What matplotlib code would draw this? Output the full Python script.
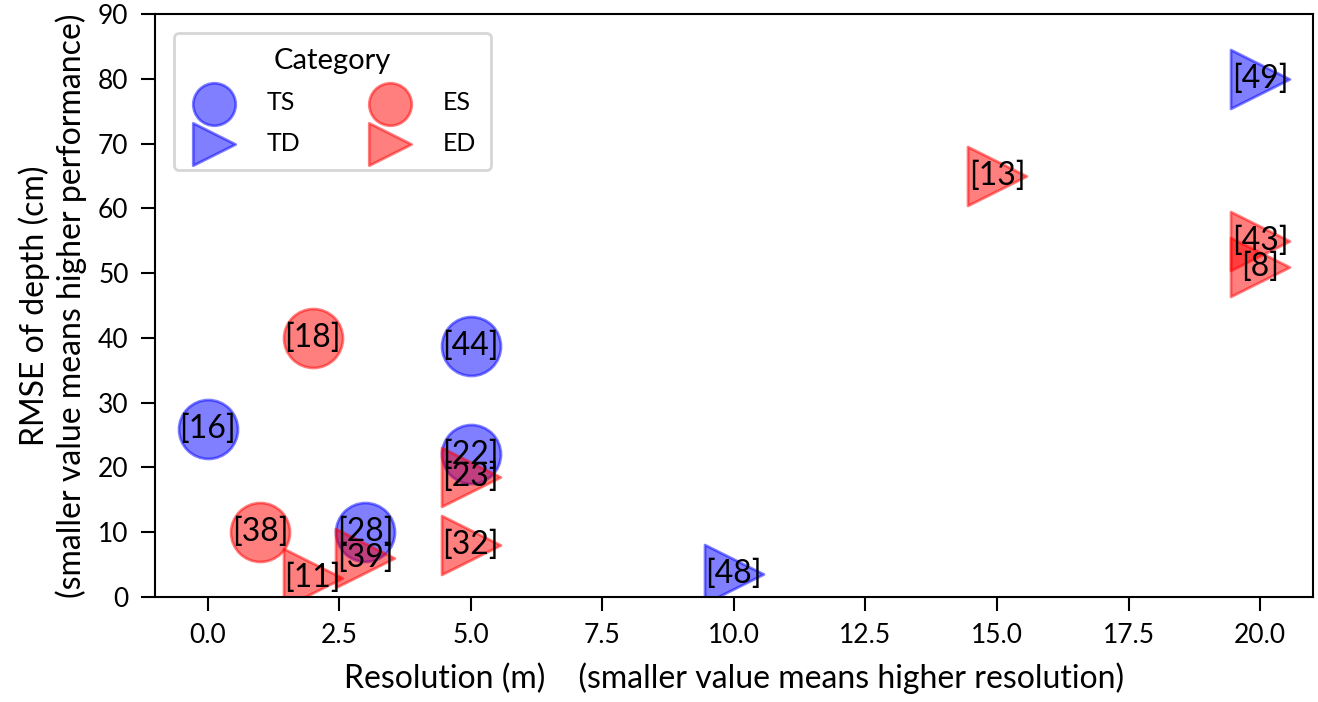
import numpy as np
import matplotlib.pyplot as plt

plt.rcParams['font.family'] = ['Lato', 'DejaVu Sans']

# references, resolution (m), rmse (cm), category
refs = ['16', '18', '44', '22', '23', '38', '28', '39', '11', '32', '48', '13', '49', '43', '8']
resolution = [0, 2, 5, 5, 5, 1, 3, 3, 2, 5, 10, 15, 20, 20, 20]
rmse = [26, 40, 38.8, 22, 18.5, 10, 10, 6, 3, 8, 3.5, 65, 80, 55, 51]
category = ['TS', 'ES', 'TS', 'TS', 'ED', 'ES', 'TS', 'ED', 'ED', 'ED', 'TD', 'ED', 'TD', 'ED', 'ED']

cat_order = ['TS', 'TD', 'ES', 'ED']
cat_color = {'TS': 'blue', 'TD': 'blue', 'ES': 'red', 'ED': 'red'}
cat_marker = {'TS': 'o', 'TD': '>', 'ES': 'o', 'ED': '>'}

fig, ax = plt.subplots(figsize=(13.18, 7.02), dpi=100)

x = np.array(resolution)
y = np.array(rmse)
cats = np.array(category)
for c in cat_order:
    m = cats == c
    ax.scatter(x[m], y[m], s=1800, c=cat_color[c], marker=cat_marker[c],
               alpha=0.5, edgecolors=cat_color[c], linewidths=2, label=c)

for r, xi, yi in zip(refs, resolution, rmse):
    ax.text(xi, yi, '[' + r + ']', ha='center', va='center', fontsize=23)

ax.set_xlim(-1, 21)
ax.set_ylim(0, 90)
ax.set_xticks(np.arange(0, 20.1, 2.5))
ax.set_yticks(np.arange(0, 91, 10))
ax.tick_params(labelsize=19, width=1.5, length=10, pad=9)
for s in ax.spines.values():
    s.set_linewidth(1.5)

ax.set_xlabel('Resolution (m)    (smaller value means higher resolution)', fontsize=23,
              labelpad=10)
ax.set_ylabel('RMSE of depth (cm)\n(smaller value means higher performance)', fontsize=23,
              labelpad=8)

leg = ax.legend(title='Category', ncol=2, loc='upper left', fontsize=18, title_fontsize=21,
                markerscale=0.72, borderpad=0.6, columnspacing=2.6, handletextpad=1.1,
                labelspacing=0.7, borderaxespad=0.75, frameon=True)
leg.get_frame().set_linewidth(2)
leg.get_frame().set_edgecolor('#cccccc')

plt.subplots_adjust(left=0.1176, right=0.996, top=0.98, bottom=0.1496)
plt.savefig('out.png', dpi=100)
